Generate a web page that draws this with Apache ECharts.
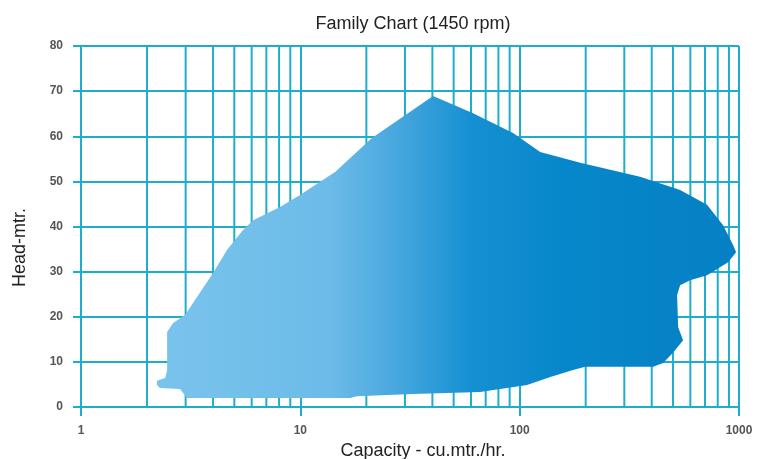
<!DOCTYPE html>
<html>
<head>
<meta charset="utf-8">
<script src="https://cdn.jsdelivr.net/npm/echarts@6/dist/echarts.min.js"></script>
<style>
html,body{margin:0;padding:0;background:#fff;}
#chart{width:760px;height:459px;}
</style>
</head>
<body>
<div id="chart"></div>
<script>
// ---- data ----
const titleText = 'Family Chart (1450 rpm)';
const xAxisName = 'Capacity - cu.mtr./hr.';
const yAxisName = 'Head-mtr.';
const xMin = 1, xMax = 1000;
const yMin = 0, yMax = 80, yInterval = 10;
// minor vertical grid lines (log decades)
const minorGridX = [2,3,4,5,6,7,8,9,20,30,40,50,60,70,80,90,200,300,400,500,600,700,800,900];
// outline of the family coverage region (capacity, head), clockwise
const boundaryCapacity = [2.29, 2.22, 2.22, 2.42, 2.47, 2.47, 2.63, 2.98, 3.38, 4.0, 4.63, 5.48, 6.09, 8.08, 9.97, 12.3, 14.4, 21.2, 40.3, 61.3, 93.3, 124, 189, 354, 539, 715, 846, 940, 970, 892, 715, 598, 539, 522, 528, 556, 500, 451, 406, 199, 175, 138, 108, 66, 32.7, 18.1, 16.9, 3.04, 2.83];
const boundaryHead     = [4.2, 4.9, 5.8, 6.4, 8.2, 16.6, 18.6, 20.4, 24.4, 29.7, 34.8, 39.2, 41.4, 44.3, 47.0, 49.9, 52.1, 59.6, 68.9, 65.1, 60.7, 56.5, 54.1, 51.0, 48.1, 44.8, 40.3, 35.9, 34.3, 32.1, 29.2, 28.1, 27.0, 24.8, 17.7, 14.8, 12.0, 9.75, 8.9, 8.9, 8.2, 6.65, 4.9, 3.3, 2.9, 2.4, 2.0, 2.0, 4.0];

// ---- styles ----
const gridColor = '#1fadcd';
const fontFam = '"Liberation Sans", Arial, sans-serif';

const chart = echarts.init(document.getElementById('chart'), null, {renderer: 'canvas'});

const fillGradient = new echarts.graphic.LinearGradient(0, 0, 1, 0, [
  {offset: 0, color: '#79c4ed'},
  {offset: 0.30, color: '#6cbbe8'},
  {offset: 0.42, color: '#45a6de'},
  {offset: 0.54, color: '#1690d2'},
  {offset: 0.70, color: '#0787cb'},
  {offset: 1, color: '#0580c4'}
]);

const option = {
  animation: false,
  backgroundColor: '#ffffff',
  title: {
    text: titleText,
    left: 408, top: 10, textAlign: 'center',
    textStyle: {fontFamily: fontFam, fontSize: 18, fontWeight: 'normal', color: '#222'}
  },
  grid: {left: 81, right: 21, top: 46, bottom: 52, containLabel: false, outerBoundsMode: 'none'},
  xAxis: {
    type: 'log', logBase: 10, min: xMin, max: xMax,
    name: xAxisName, nameLocation: 'middle', nameGap: 27,
    nameTextStyle: {fontFamily: fontFam, fontSize: 18, color: '#222', padding: [0, 0, 0, 26]},
    axisLine: {show: true, lineStyle: {color: gridColor, width: 2}},
    axisTick: {show: true, length: 9, inside: false, lineStyle: {color: gridColor, width: 2}},
    axisLabel: {
      fontFamily: fontFam, fontSize: 12, fontWeight: 'bold', color: '#555', margin: 18,
      formatter: function (v) { return String(Math.round(v)); }
    },
    splitLine: {show: true, lineStyle: {color: gridColor, width: 2}},
    minorTick: {show: false}, minorSplitLine: {show: false}
  },
  yAxis: {
    type: 'value', min: yMin, max: yMax, interval: yInterval,
    name: yAxisName, nameLocation: 'middle', nameGap: 52, nameRotate: 90,
    nameTextStyle: {fontFamily: fontFam, fontSize: 18, color: '#222', padding: [0, 42, 0, 0]},
    axisLine: {show: true, lineStyle: {color: gridColor, width: 2}},
    axisTick: {show: true, length: 8, inside: false, lineStyle: {color: gridColor, width: 2}},
    axisLabel: {fontFamily: fontFam, fontSize: 12, fontWeight: 'bold', color: '#555', margin: 18},
    splitLine: {show: true, lineStyle: {color: gridColor, width: 2}}
  },
  series: [
    {
      type: 'custom', name: 'minorGrid', z: 1, silent: true,
      coordinateSystem: 'cartesian2d',
      data: minorGridX.map(v => [v, yMax]),
      encode: {x: 0, y: 1},
      renderItem: function (params, api) {
        const v = api.value(0);
        const p0 = api.coord([v, yMin]);
        const p1 = api.coord([v, yMax]);
        return {
          type: 'line',
          shape: {x1: p0[0], y1: p0[1], x2: p1[0], y2: p1[1]},
          style: {stroke: gridColor, lineWidth: 2}
        };
      }
    },
    {
      type: 'custom', name: 'family', z: 5, silent: true,
      coordinateSystem: 'cartesian2d',
      data: [[boundaryCapacity[0], boundaryHead[0]]],
      encode: {x: 0, y: 1},
      renderItem: function (params, api) {
        const pts = boundaryCapacity.map((c, i) => api.coord([c, boundaryHead[i]]));
        return {
          type: 'polygon',
          shape: {points: pts},
          style: {fill: fillGradient, stroke: null}
        };
      }
    }
  ]
};
chart.setOption(option);
</script>
</body>
</html>
